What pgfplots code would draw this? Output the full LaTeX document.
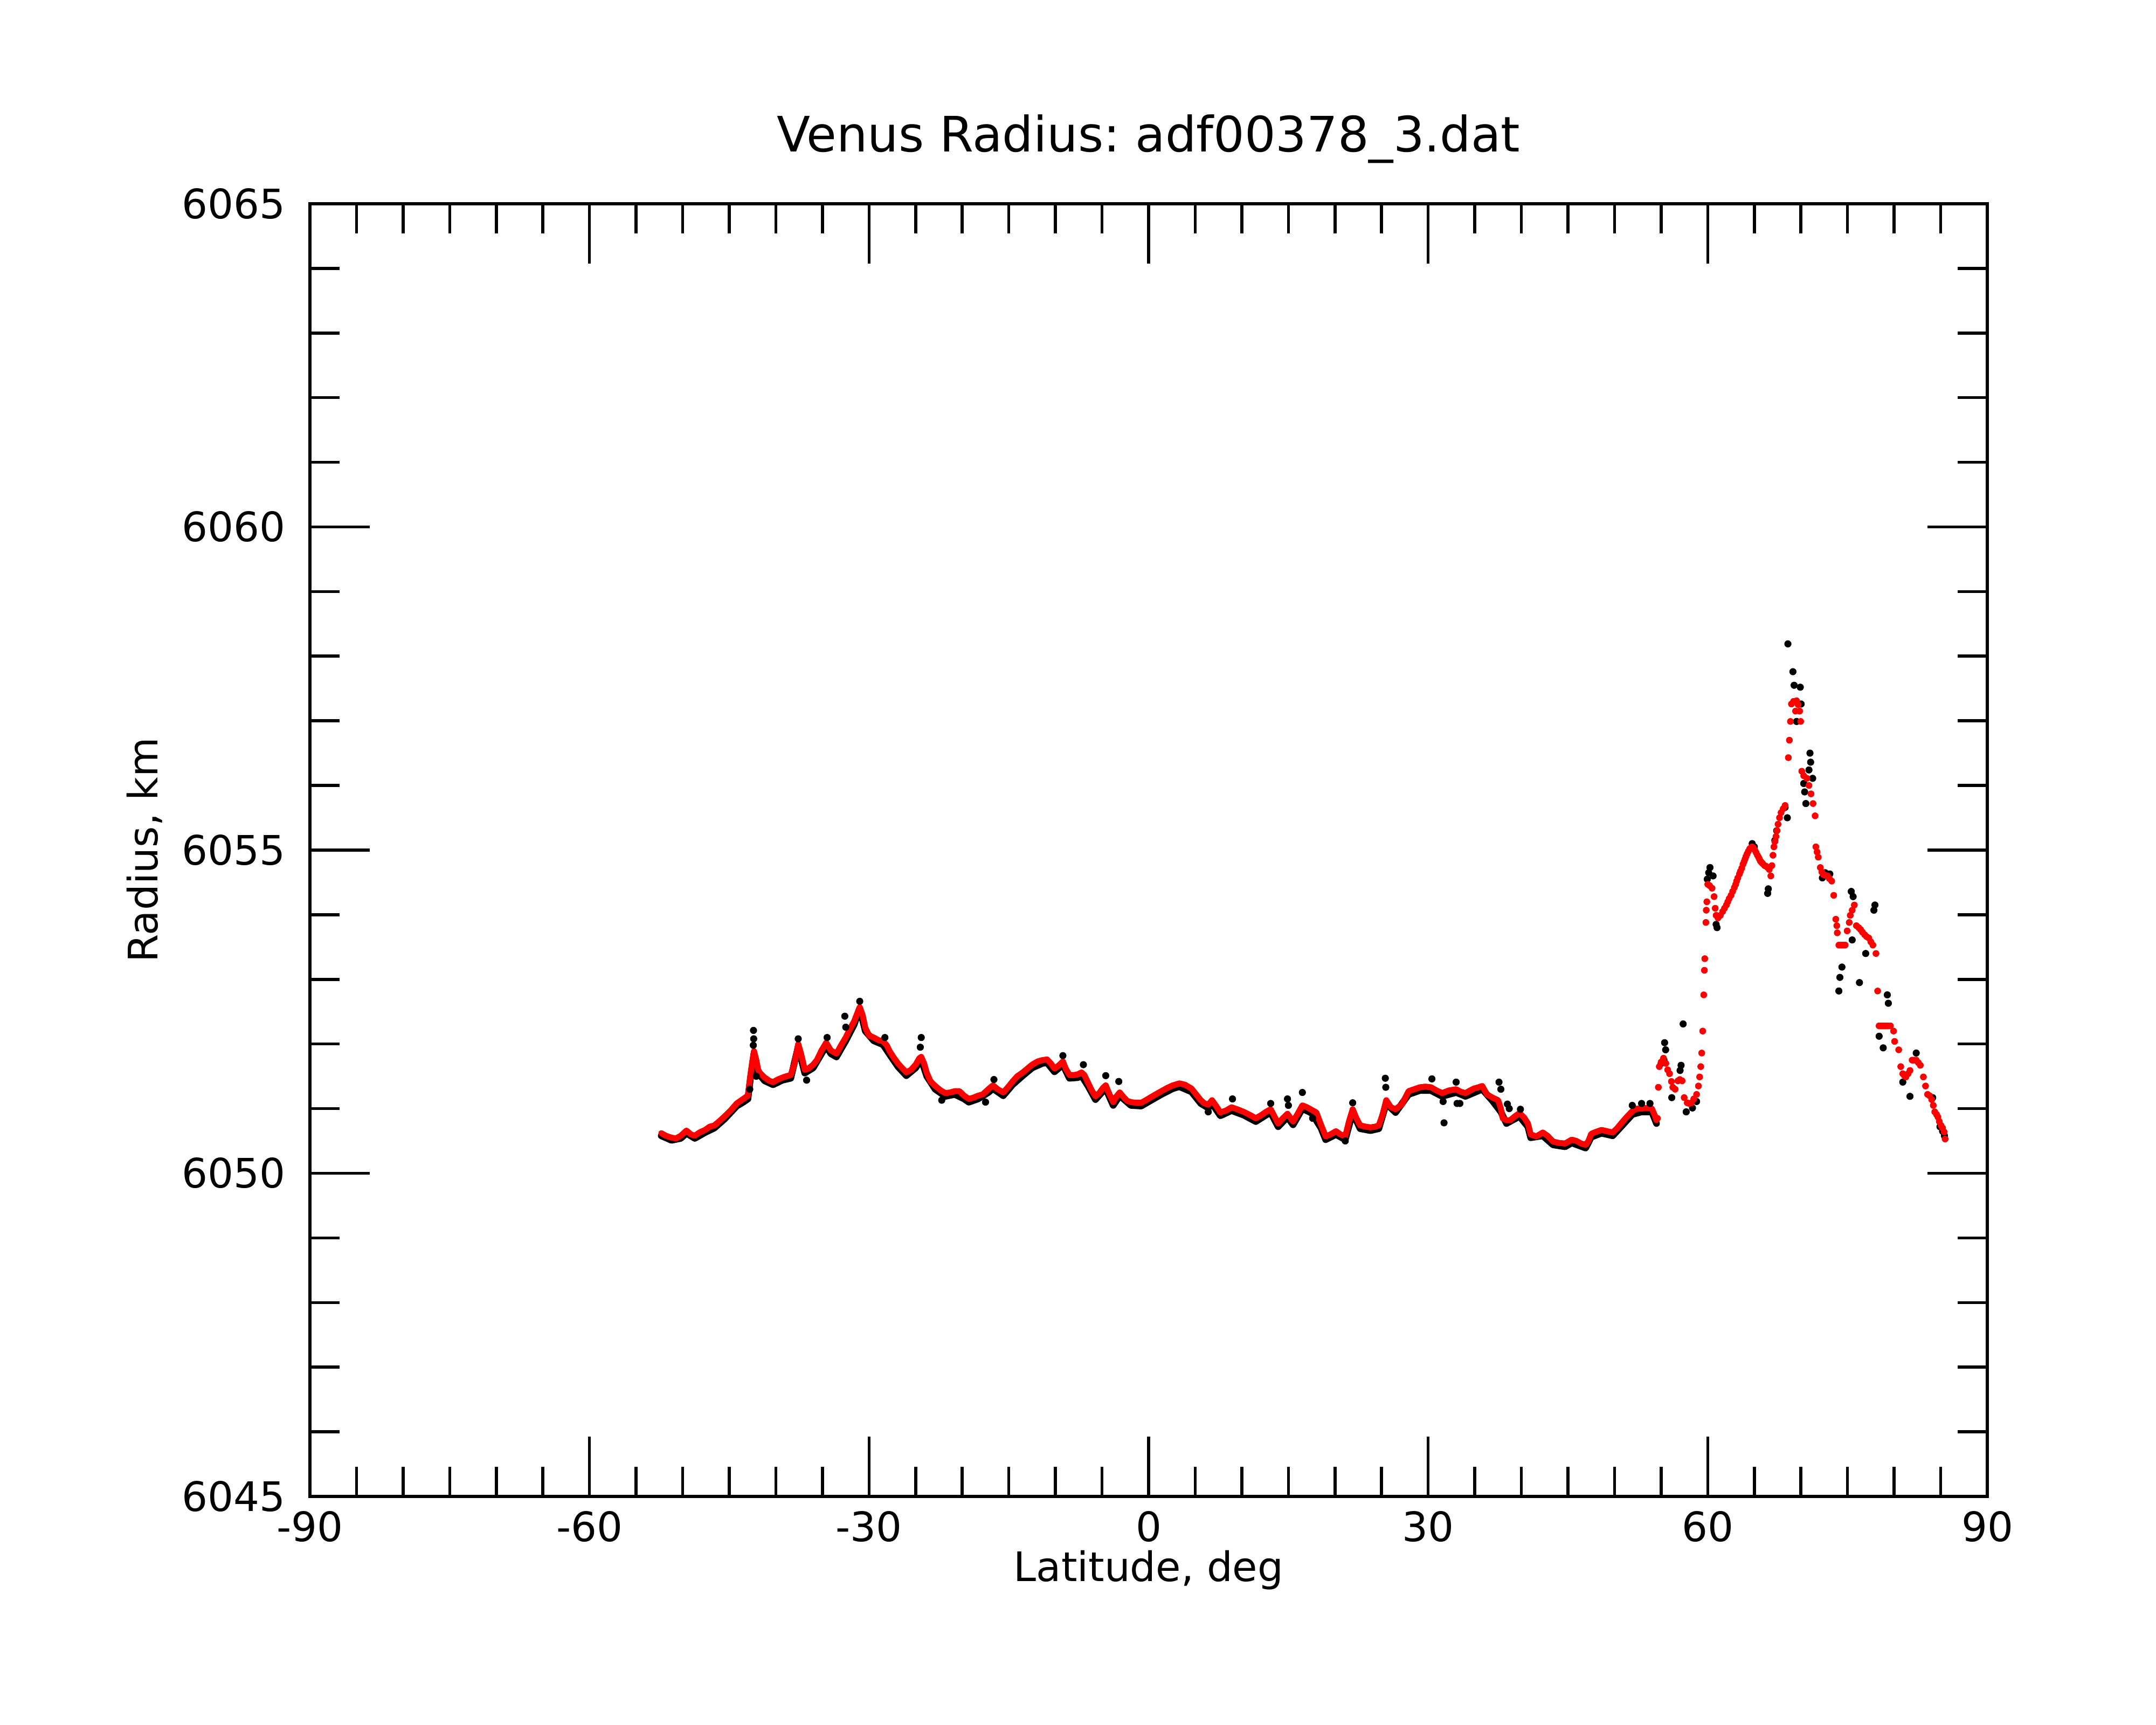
\documentclass[border=0pt]{standalone}
\usepackage{fontspec}
\setmainfont{DejaVu Sans}
\usepackage{pgfplots}
\pgfplotsset{compat=1.18}
\frenchspacing
\begin{document}
\begin{tikzpicture}
\useasboundingbox (-2.921cm,-2.154cm) rectangle (17.399cm,14.102cm);
\begin{axis}[
  scale only axis, width=15.809cm, height=12.182cm,
  at={(0,0)}, anchor=south west,
  xmin=-90, xmax=90, ymin=6045, ymax=6065,
  xtick={-90,-60,-30,0,30,60,90},
  xticklabels={-90,-60,-30,0,30,60,90},
  ytick={6045,6050,6055,6060,6065},
  yticklabels={6045,6050,6055,6060,6065},
  minor x tick num=5, minor y tick num=4,
  tick align=inside,
  major tick length=16pt, minor tick length=8pt,
  tick style={black, line width=0.8pt},
  axis line style={line width=0.8pt},
  xticklabel style={font=\fontsize{10.9}{13}\selectfont, anchor=base, yshift=-12.1pt, inner sep=0pt},
  yticklabel style={font=\fontsize{10.9}{13}\selectfont, anchor=east, xshift=-6.4pt, inner sep=0pt},
  title={Venus Radius: adf00378\_3.dat},
  title style={at={(axis description cs:0.5,1.0401)}, anchor=base, yshift=-6pt, font=\fontsize{13.1}{15}\selectfont, inner sep=0pt},
  xlabel={Latitude, deg},
  xlabel style={at={(axis description cs:0.5,-0.0658)}, anchor=base, font=\fontsize{10.9}{13}\selectfont, inner sep=0pt},
  ylabel={Radius, km},
  ylabel style={at={(axis description cs:-0.0909,0.5)}, anchor=base, font=\fontsize{10.9}{13}\selectfont, inner sep=0pt},
]
% black raw data: main band
\addplot[black, line width=1.8pt, line join=round, line cap=round] table {
-52.3 6050.58
-51.2 6050.51
-50.2 6050.54
-49.6 6050.62
-48.7 6050.54
-47.6 6050.63
-46.6 6050.70
-45.5 6050.84
-44.2 6051.04
-43.5 6051.10
-43.0 6051.15
-42.7 6051.50
-42.35 6051.85
-41.9 6051.55
-41.2 6051.43
-40.3 6051.37
-39.3 6051.44
-38.4 6051.47
-37.6 6051.96
-36.9 6051.55
-36.0 6051.63
-35.1 6051.85
-34.6 6051.97
-34.1 6051.85
-33.5 6051.80
-32.5 6052.05
-31.6 6052.30
-31.0 6052.55
-30.4 6052.20
-29.5 6052.05
-28.5 6051.99
-27.8 6051.84
-26.9 6051.65
-26.0 6051.51
-25.0 6051.63
-24.4 6051.76
-23.8 6051.50
-22.9 6051.30
-21.8 6051.19
-20.8 6051.22
-19.8 6051.15
-19.3 6051.10
-18.3 6051.15
-17.2 6051.25
-16.7 6051.31
-15.6 6051.20
-14.6 6051.37
-13.5 6051.51
-12.5 6051.63
-11.4 6051.70
-10.9 6051.71
-10.1 6051.57
-9.2 6051.68
-8.5 6051.47
-7.6 6051.48
-7.2 6051.51
-6.5 6051.35
-5.7 6051.14
-4.9 6051.27
-4.6 6051.31
-3.8 6051.05
-3.1 6051.20
-1.9 6051.05
-0.8 6051.04
0.4 6051.14
1.5 6051.23
2.6 6051.31
3.3 6051.34
4.6 6051.26
5.6 6051.08
6.4 6051.01
6.8 6051.08
7.7 6050.89
8.9 6050.97
10.2 6050.90
11.5 6050.80
12.6 6050.90
13.1 6050.94
13.9 6050.72
14.9 6050.87
15.5 6050.75
16.5 6051.00
17.5 6050.93
18.5 6050.70
19.0 6050.52
20.1 6050.60
21.1 6050.52
21.9 6050.94
22.7 6050.69
23.8 6050.66
24.7 6050.69
25.5 6051.08
26.5 6050.94
27.9 6051.22
29.1 6051.28
30.3 6051.28
31.5 6051.19
33.0 6051.25
34.0 6051.19
35.8 6051.30
36.9 6051.12
37.8 6050.95
38.4 6050.77
39.8 6050.88
40.7 6050.72
41.0 6050.55
42.3 6050.58
43.4 6050.44
44.7 6050.41
45.4 6050.47
46.9 6050.39
47.5 6050.56
48.6 6050.62
49.8 6050.58
50.7 6050.72
51.9 6050.91
52.9 6050.95
54.0 6050.95
54.5 6050.77
};
% black raw data: scattered points
\addplot[only marks, mark=*, mark size=0.9pt, mark options={fill=black, draw=black, line width=0.1pt}] table {
-42.4 6052.21
-42.38 6052.08
-42.42 6051.98
-42.1 6051.50
-42.8 6051.30
-37.6 6052.08
-36.7 6051.44
-34.5 6052.10
-32.6 6052.43
-32.5 6052.26
-31.0 6052.66
-28.3 6052.10
-24.4 6052.10
-24.5 6051.95
-22.2 6051.13
-17.5 6051.10
-16.6 6051.45
-9.2 6051.82
-7.0 6051.68
-4.6 6051.51
-3.2 6051.42
6.4 6050.95
9.0 6051.15
13.1 6051.08
14.9 6051.15
15.0 6051.05
16.5 6051.25
17.6 6050.85
21.1 6050.50
21.9 6051.09
25.4 6051.47
25.45 6051.33
30.4 6051.46
31.6 6051.11
31.7 6050.78
33.0 6051.41
33.1 6051.08
33.4 6051.08
37.6 6051.41
37.8 6051.30
38.5 6051.07
38.7 6051.00
39.9 6050.99
51.9 6051.05
52.9 6051.08
53.8 6051.08
55.0 6051.70
55.3 6051.75
55.37 6052.02
55.48 6051.91
56.14 6051.17
57.03 6051.59
57.14 6051.67
57.36 6052.31
57.69 6050.95
58.36 6051.01
58.8 6051.11
59.95 6054.55
60.1 6054.65
60.24 6054.73
60.57 6054.60
60.9 6053.85
61.0 6053.80
64.77 6055.10
65.0 6055.05
66.43 6054.33
66.5 6054.40
67.2 6055.15
67.4 6055.30
68.3 6055.66
68.54 6055.50
68.6 6058.19
69.14 6057.76
69.27 6057.55
69.93 6057.52
70.02 6057.26
69.53 6056.99
70.97 6056.50
71.04 6056.36
70.86 6056.24
71.26 6056.11
70.3 6056.03
70.4 6055.90
70.53 6055.72
72.3 6054.57
72.6 6054.65
73.1 6054.63
74.07 6052.82
74.18 6053.03
74.4 6053.19
75.4 6054.36
75.6 6054.28
75.5 6053.61
76.28 6052.95
76.95 6053.40
77.83 6054.07
77.94 6054.15
78.39 6052.12
78.83 6051.94
79.27 6052.76
79.38 6052.63
80.93 6051.41
81.7 6051.19
82.37 6051.86
84.14 6051.17
84.92 6050.72
85.2 6050.65
85.4 6050.58
};
% red smoothed data: dense part
\addplot[red, line width=1.6pt, line join=round, line cap=round] table {
-52.3 6050.62
-51.8 6050.58
-51.2 6050.55
-50.7 6050.54
-50.2 6050.58
-49.6 6050.66
-49.1 6050.60
-48.7 6050.58
-48.2 6050.63
-47.6 6050.67
-47.1 6050.72
-46.6 6050.74
-46.1 6050.80
-45.5 6050.88
-44.8 6050.98
-44.2 6051.08
-43.5 6051.15
-43.0 6051.20
-42.9 6051.32
-42.7 6051.55
-42.5 6051.75
-42.35 6051.89
-42.1 6051.75
-41.9 6051.60
-41.7 6051.55
-41.2 6051.48
-40.7 6051.43
-40.3 6051.41
-39.8 6051.45
-39.3 6051.48
-38.9 6051.50
-38.4 6051.52
-38.0 6051.70
-37.6 6052.00
-37.3 6051.85
-36.9 6051.60
-36.5 6051.62
-36.0 6051.68
-35.6 6051.75
-35.1 6051.90
-34.6 6052.02
-34.1 6051.90
-33.5 6051.85
-33.0 6051.98
-32.5 6052.10
-32.1 6052.22
-31.6 6052.35
-31.2 6052.50
-31.0 6052.57
-30.7 6052.45
-30.4 6052.25
-30.0 6052.13
-29.5 6052.10
-29.0 6052.06
-28.5 6052.04
-28.1 6051.98
-27.8 6051.89
-27.4 6051.80
-26.9 6051.70
-26.4 6051.62
-26.0 6051.56
-25.5 6051.60
-25.0 6051.68
-24.6 6051.78
-24.4 6051.80
-24.1 6051.70
-23.8 6051.55
-23.4 6051.42
-22.9 6051.35
-22.3 6051.28
-21.8 6051.24
-21.3 6051.25
-20.8 6051.27
-20.3 6051.27
-19.8 6051.20
-19.3 6051.15
-18.8 6051.17
-18.3 6051.20
-17.8 6051.22
-17.2 6051.30
-16.7 6051.36
-16.2 6051.30
-15.6 6051.25
-15.1 6051.33
-14.6 6051.42
-14.1 6051.50
-13.5 6051.56
-13.0 6051.62
-12.5 6051.68
-11.9 6051.73
-11.4 6051.75
-10.9 6051.76
-10.5 6051.70
-10.1 6051.62
-9.7 6051.66
-9.2 6051.73
-8.9 6051.62
-8.5 6051.52
-8.0 6051.52
-7.6 6051.53
-7.2 6051.56
-6.9 6051.52
-6.5 6051.40
-6.1 6051.28
-5.7 6051.19
-5.3 6051.24
-4.9 6051.32
-4.6 6051.36
-4.2 6051.22
-3.8 6051.10
-3.5 6051.18
-3.1 6051.25
-2.7 6051.18
-2.3 6051.12
-1.9 6051.10
-1.3 6051.09
-0.8 6051.09
-0.3 6051.13
0.4 6051.19
1.0 6051.24
1.5 6051.28
2.0 6051.32
2.6 6051.36
3.3 6051.39
3.9 6051.37
4.6 6051.31
5.1 6051.22
5.6 6051.13
6.0 6051.08
6.4 6051.06
6.8 6051.13
7.2 6051.05
7.7 6050.94
8.3 6050.97
8.9 6051.02
9.5 6050.99
10.2 6050.95
10.9 6050.90
11.5 6050.85
12.1 6050.90
12.6 6050.95
13.1 6050.99
13.5 6050.88
13.9 6050.77
14.4 6050.85
14.9 6050.92
15.5 6050.80
16.0 6050.92
16.5 6051.05
17.0 6051.02
17.5 6050.98
18.0 6050.94
18.5 6050.75
19.0 6050.57
19.5 6050.60
20.1 6050.65
20.6 6050.60
21.1 6050.57
21.5 6050.80
21.9 6050.99
22.3 6050.85
22.7 6050.74
23.3 6050.72
23.8 6050.71
24.3 6050.72
24.7 6050.74
25.1 6050.90
25.5 6051.13
26.0 6051.02
26.5 6050.99
27.2 6051.07
27.9 6051.27
28.5 6051.30
29.1 6051.33
29.7 6051.34
30.3 6051.33
30.9 6051.28
31.5 6051.24
32.2 6051.28
33.0 6051.30
33.5 6051.26
34.0 6051.24
34.5 6051.28
34.9 6051.31
35.4 6051.33
35.8 6051.35
36.3 6051.22
36.9 6051.17
37.5 6051.13
37.8 6051.00
38.0 6050.85
38.4 6050.82
38.8 6050.82
39.3 6050.88
39.8 6050.93
40.3 6050.86
40.7 6050.77
41.0 6050.60
41.6 6050.57
42.3 6050.63
42.8 6050.58
43.4 6050.49
44.0 6050.47
44.7 6050.46
45.4 6050.52
45.9 6050.50
46.4 6050.46
46.9 6050.44
47.2 6050.50
47.5 6050.61
48.0 6050.64
48.6 6050.67
49.2 6050.65
49.8 6050.63
50.3 6050.70
50.7 6050.77
51.3 6050.87
51.9 6050.96
52.4 6051.00
52.9 6051.00
53.4 6051.01
54.0 6051.00
54.3 6050.90
54.5 6050.82
};
% red smoothed data: sparse part
\addplot[only marks, mark=*, mark size=0.85pt, mark options={fill=red, draw=red, line width=0.1pt}] table {
54.6 6050.85
54.7 6051.33
54.8 6051.65
55.0 6051.72
55.25 6051.78
55.5 6051.70
55.7 6051.60
55.9 6051.54
56.1 6051.42
56.25 6051.33
56.5 6051.30
56.8 6051.43
57.0 6051.45
57.25 6051.43
57.47 6051.17
57.8 6051.09
58.0 6051.08
58.25 6051.09
58.5 6051.15
58.8 6051.22
59.0 6051.35
59.13 6051.49
59.25 6051.65
59.35 6051.86
59.46 6052.20
59.57 6052.76
59.64 6053.14
59.68 6053.32
59.8 6053.88
59.84 6054.07
59.9 6054.20
60.0 6054.47
60.2 6054.45
60.46 6054.41
60.68 6054.28
60.8 6054.10
60.9 6053.99
61.1 6053.95
61.35 6053.99
61.6 6054.05
61.8 6054.10
62.0 6054.15
62.15 6054.20
62.3 6054.25
62.5 6054.30
62.67 6054.36
62.85 6054.42
63.0 6054.47
63.1 6054.52
63.23 6054.57
63.4 6054.63
63.5 6054.67
63.65 6054.72
63.78 6054.78
63.9 6054.82
64.0 6054.86
64.1 6054.90
64.22 6054.94
64.35 6054.98
64.5 6055.02
64.65 6055.04
64.77 6055.05
64.9 6055.03
65.05 6055.00
65.2 6054.96
65.33 6054.92
65.45 6054.89
65.55 6054.86
65.65 6054.83
65.77 6054.81
65.9 6054.79
66.1 6054.76
66.25 6054.75
66.43 6054.73
66.6 6054.70
66.77 6054.60
66.88 6054.76
67.0 6054.92
67.1 6055.05
67.2 6055.13
67.32 6055.21
67.43 6055.30
67.54 6055.40
67.7 6055.50
67.87 6055.58
68.1 6055.64
68.3 6055.69
68.65 6056.43
68.76 6056.70
68.87 6056.99
68.98 6057.26
69.2 6057.30
69.42 6057.15
69.53 6057.31
69.7 6057.25
69.86 6057.15
69.97 6056.99
70.09 6056.22
70.3 6056.15
70.64 6056.11
70.86 6056.00
71.08 6055.87
71.3 6055.72
71.52 6055.53
71.6 6055.05
71.73 6054.97
71.86 6054.89
72.08 6054.73
72.25 6054.66
72.41 6054.62
72.6 6054.61
72.85 6054.60
73.05 6054.56
73.3 6054.52
73.52 6054.30
73.74 6053.93
73.85 6053.83
73.9 6053.72
74.07 6053.53
74.25 6053.53
74.4 6053.53
74.57 6053.53
74.74 6053.53
74.96 6053.75
75.18 6053.88
75.29 6053.99
75.5 6054.07
75.73 6054.15
75.95 6053.83
76.2 6053.80
76.4 6053.77
76.6 6053.73
76.84 6053.69
77.05 6053.66
77.28 6053.64
77.5 6053.58
77.72 6053.53
78.05 6053.40
78.23 6052.82
78.39 6052.28
78.55 6052.28
78.7 6052.28
78.9 6052.28
79.05 6052.28
79.3 6052.28
79.6 6052.28
79.94 6052.20
80.05 6052.04
80.49 6051.91
80.71 6051.65
80.93 6051.54
81.1 6051.51
81.26 6051.49
81.5 6051.54
81.7 6051.59
81.93 6051.75
82.15 6051.75
82.37 6051.75
82.6 6051.71
82.81 6051.67
83.14 6051.49
83.37 6051.35
83.59 6051.22
83.8 6051.20
84.03 6051.14
84.2 6051.05
84.36 6050.95
84.55 6050.91
84.7 6050.87
84.85 6050.80
85.03 6050.74
85.2 6050.70
85.36 6050.64
85.47 6050.53
};
\end{axis}
\end{tikzpicture}
\end{document}
